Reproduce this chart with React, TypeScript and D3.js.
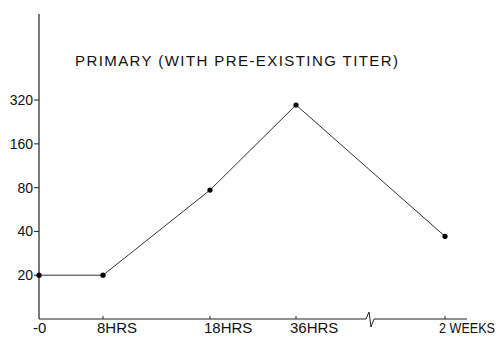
import React from "react";
import * as d3 from "d3";

const categories = ["0", "8HRS", "18HRS", "36HRS", "2 WEEKS"];
const titerValues = [20, 20, 77, 296, 37];
const yTickValues = [20, 40, 80, 160, 320];
const title = "PRIMARY (WITH PRE-EXISTING TITER)";

const W = 500;
const H = 337;
const axisX = 39;
const axisY = 319;
const FONT = "'Liberation Sans', Arial, Helvetica, sans-serif";

export default function App() {
  const y = d3.scaleLog().base(2).domain([10, 1250]).range([axisY, 14]);
  // hand-drawn, uneven category spacing with an axis break before the last
  const x = d3
    .scaleLinear()
    .domain([0, 1, 2, 3, 4])
    .range([axisX, 103, 210, 296, 445]);

  const pts: [number, number][] = titerValues.map((v, i) => [x(i), y(v)]);
  const line = d3.line()(pts) || "";
  const breakX = 370;

  return (
    <svg
      width={W}
      height={H}
      style={{ position: "absolute", left: 0, top: 0, background: "#fff" }}
      fontFamily={FONT}
    >
      <rect width={W} height={H} fill="#fff" />
      {/* title */}
      <text
        x={75}
        y={66}
        fontSize={15}
        fill="#111"
        textLength={323}
        lengthAdjust="spacing"
      >
        {title}
      </text>
      {/* y axis */}
      <line x1={axisX} y1={14} x2={axisX} y2={axisY} stroke="#222" strokeWidth={1.2} />
      {yTickValues.map((t) => (
        <g key={t}>
          <line x1={axisX - 5} x2={axisX} y1={y(t)} y2={y(t)} stroke="#222" strokeWidth={1} />
          <text x={33} y={y(t) + 5} fontSize={14} textAnchor="end" fill="#111">
            {t}
          </text>
        </g>
      ))}
      {/* x axis with break */}
      <line x1={axisX} y1={axisY} x2={breakX - 4} y2={axisY} stroke="#222" strokeWidth={1.2} />
      <path
        d={`M${breakX - 4},${axisY} L${breakX - 1},${axisY - 7} L${breakX + 1},${axisY + 8} L${breakX + 4},${axisY}`}
        fill="none"
        stroke="#222"
        strokeWidth={1}
      />
      <line x1={breakX + 4} y1={axisY} x2={467} y2={axisY} stroke="#222" strokeWidth={1.2} />
      {categories.map((c, i) => (
        <g key={c}>
          {i > 0 && (
            <line x1={x(i)} x2={x(i)} y1={axisY - 3} y2={axisY} stroke="#222" strokeWidth={1} />
          )}
          <text
            x={x(i) - 6}
            y={333}
            fontSize={i === categories.length - 1 ? 14 : 15}
            fill="#111"
            {...(i === categories.length - 1
              ? { textLength: 56, lengthAdjust: "spacingAndGlyphs" }
              : {})}
          >
            {i === 0 ? "-0" : c}
          </text>
        </g>
      ))}
      {/* data line */}
      <path d={line} fill="none" stroke="#333" strokeWidth={1} />
      {pts.map((p, i) => (
        <circle key={i} cx={p[0]} cy={p[1]} r={2.6} fill="#000" />
      ))}
    </svg>
  );
}
